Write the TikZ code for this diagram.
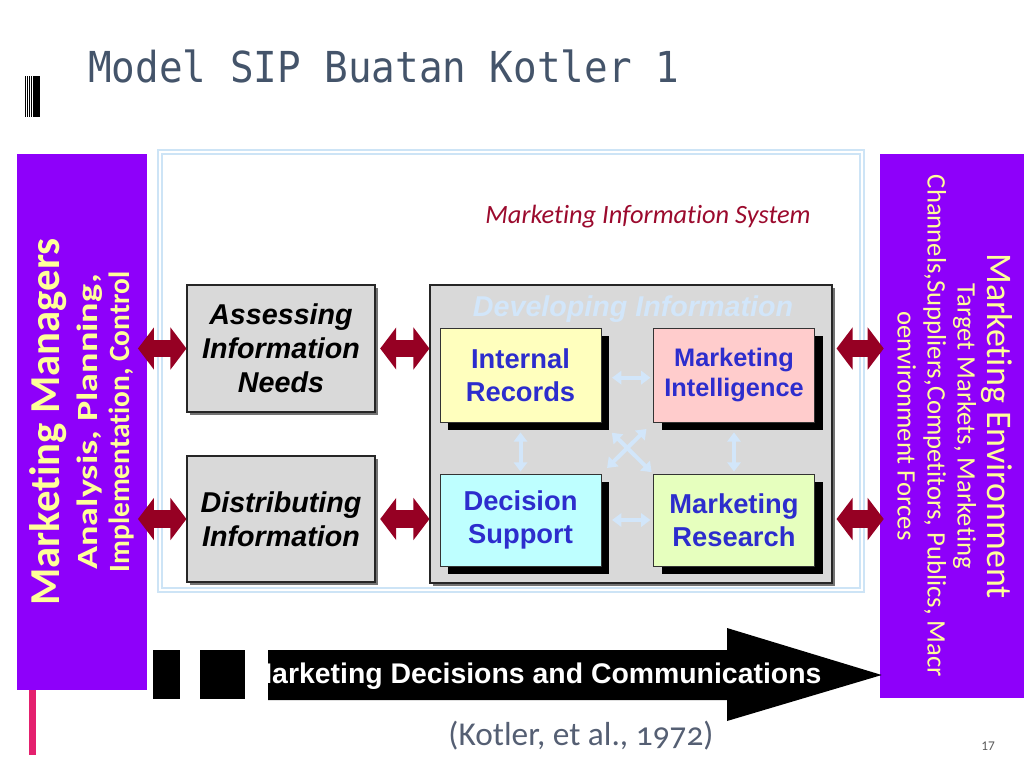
\documentclass[tikz,border=0pt]{standalone}
\usepackage{fontspec}
\usepackage{graphicx}
\setmainfont{Carlito}[Ligatures=CommonOff]
\newfontfamily\arialfont{Liberation Sans}
\newfontfamily\consfont{DejaVu Sans Mono}
\usetikzlibrary{arrows.meta,positioning,shadows,calc}

\definecolor{mispurple}{RGB}{142,0,250}
\definecolor{misyellow}{RGB}{255,255,153}
\definecolor{misred}{RGB}{150,0,35}
\definecolor{misdark}{RGB}{155,10,45}
\definecolor{misblue}{RGB}{45,45,205}
\definecolor{misframe}{RGB}{205,228,246}
\definecolor{misarrow}{RGB}{210,230,250}
\definecolor{titleblue}{RGB}{68,84,106}
\definecolor{boxgray}{RGB}{217,217,217}
\definecolor{barpink}{RGB}{228,32,110}

\begin{document}
\begin{tikzpicture}[x=0.75pt,y=-0.75pt,
    sidebox/.style={fill=mispurple,inner sep=0pt},
    sidetext/.style={text=misyellow,align=center,inner sep=0pt},
    graybox/.style={draw=black!85,line width=0.8pt,fill=boxgray,inner sep=0pt,align=center,
      drop shadow={shadow xshift=2.5pt,shadow yshift=-2.5pt,fill=black!55,opacity=1}},
    subbox/.style={draw=black!80,line width=0.6pt,inner sep=0pt,minimum width=120.75pt,
      text=misblue,align=center,font=\arialfont\bfseries\fontsize{20.5}{25}\selectfont,
      drop shadow={shadow xshift=6pt,shadow yshift=-6pt,fill=black,opacity=1}},
    stepinfo/.style={font=\arialfont\bfseries\itshape\fontsize{21.5}{25.5}\selectfont},
    redarrow/.style={misred,line width=13pt,{Triangle[length=12pt,width=31pt]}-{Triangle[length=12pt,width=31pt]}},
    bluearrow/.style={misarrow,line width=3pt,{Triangle[length=7pt,width=10pt]}-{Triangle[length=7pt,width=10pt]}}]
  \useasboundingbox (0,0) rectangle (1024,768);

  % title
  \foreach \bx in {25,26.8,28.7,30.6}
    \fill (\bx,76) rectangle ++(1,41);
  \fill (33.3,76) rectangle (40,117);
  \node[anchor=base west,inner sep=0pt,text=titleblue,xscale=0.92,
    font=\consfont\fontsize{32}{36}\selectfont] (title) at (88,82) {Model SIP Buatan Kotler 1};

  % outer frame
  \node[draw=misframe,double=white,double distance=1.5pt,line width=1.5pt,
    minimum width=526.5pt,minimum height=328.5pt] (frame) at (511,371) {};
  \node[text=misdark,font=\itshape\fontsize{19.8}{22}\selectfont] (mislabel) at (648,217) {Marketing Information System};

  % side boxes
  \node[sidebox,minimum width=97.5pt,minimum height=402pt] (mgr) at (82,422) {};
  \fill[barpink] (29,690) rectangle (36,755);
  \node[sidetext,rotate=90,font=\bfseries\fontsize{22}{24}\selectfont] (mgrtext) at (mgr.center)
    {{\fontsize{32}{36}\selectfont Marketing Managers}\\[4pt]
     \scalebox{1.3}[1]{Analysis, Planning,}\\ Implementation, Control};
  \node[sidebox,minimum width=112.5pt,minimum height=408pt] (env) at (955,426) {};
  \node[sidetext,rotate=-90,font=\fontsize{20}{22.5}\selectfont] (envtext) at (env.center)
    {{\fontsize{27}{30}\selectfont Marketing Environment}\\ Target Markets, Marketing\\
     Channels,Suppliers,Competitors, Publics, Macr\\ oenvironment Forces};

  % steps
  \node[graybox,stepinfo,minimum width=141pt,minimum height=95.25pt] (assess) at (281,348.5)
    {Assessing\\ Information\\ Needs};
  \node[graybox,stepinfo,minimum width=141pt,minimum height=94.5pt] (distrib) at (281,519)
    {Distributing\\ Information};
  \node[graybox,minimum width=301.5pt,minimum height=223.5pt] (devinfo) at (631,434) {};
  \node[stepinfo,text=misarrow] (devtitle) at (633,309) {Developing Information};

  \node[subbox,fill={rgb,255:red,255;green,255;blue,190},minimum height=70.5pt] (ir) at (520.5,375) {Internal\\ Records};
  \node[subbox,fill={rgb,255:red,255;green,204;blue,204},minimum height=70.5pt,
    font=\arialfont\bfseries\fontsize{19}{22}\selectfont] (mi) at (734,375) {Marketing\\ Intelligence};
  \node[subbox,fill={rgb,255:red,190;green,255;blue,255},minimum height=69pt] (ds) at (520.5,520) {Decision\\ Support};
  \node[subbox,fill={rgb,255:red,230;green,255;blue,190},minimum height=69pt] (mr) at (734,520) {Marketing\\ Research};

  \draw[bluearrow,shorten <=8pt,shorten >=2pt] ([yshift=-2pt]ir.east) -- ([yshift=-2pt]mi.west);
  \draw[bluearrow,shorten <=8pt,shorten >=2pt] (ds.east) -- (mr.west);
  \draw[bluearrow,shorten <=7.5pt,shorten >=1.5pt] (ir.south) -- (ds.north);
  \draw[bluearrow,shorten <=7.5pt,shorten >=1.5pt] (mi.south) -- (mr.north);
  \draw[bluearrow,shorten <=11pt,shorten >=1.5pt] (ir.south east) -- (mr.north west);
  \draw[bluearrow,shorten <=7pt,shorten >=6pt] (mi.south west) -- (ds.north east);

  % red links
  \draw[redarrow,shorten <=-7pt] (mgr.east |- assess.west) -- (assess.west);
  \draw[redarrow,shorten <=-7pt] (mgr.east |- distrib.west) -- (distrib.west);
  \draw[redarrow,shorten <=3.5pt] (assess.east) -- (devinfo.west |- assess.east);
  \draw[redarrow,shorten <=3.5pt] (distrib.east) -- (devinfo.west |- distrib.east);
  \draw[redarrow,shorten <=3pt,shorten >=-3pt] (devinfo.east |- assess.east) -- (env.west |- assess.east);
  \draw[redarrow,shorten <=3pt,shorten >=-3pt] (devinfo.east |- distrib.east) -- (env.west |- distrib.east);

  % decisions arrow
  \fill (153,650) rectangle (180,699);
  \fill (200,650) rectangle (245,699);
  \coordinate (cmstart) at (268,675);
  \fill (cmstart) ++(0,-25) -- (727,650) -- (727,628) -- ([xshift=1.5pt]env.west |- cmstart)
    -- (727,721) -- (727,700) -- ($(cmstart)+(0,25)$) -- cycle;
  \node[text=white,font=\arialfont\bfseries\fontsize{21.3}{25}\selectfont] (cmtext) at (535,676)
    {Marketing Decisions and Communications};

  \node[text={rgb,255:red,85;green,95;blue,115},font=\fontsize{25}{28}\selectfont\addfontfeatures{Numbers=OldStyle}] (cite) at (581,736)
    {(Kotler, et al., 1972)};
  \node[text=black!65,font=\fontsize{10}{12}\selectfont] (pagenum) at (988,746) {17};
\end{tikzpicture}
\end{document}
